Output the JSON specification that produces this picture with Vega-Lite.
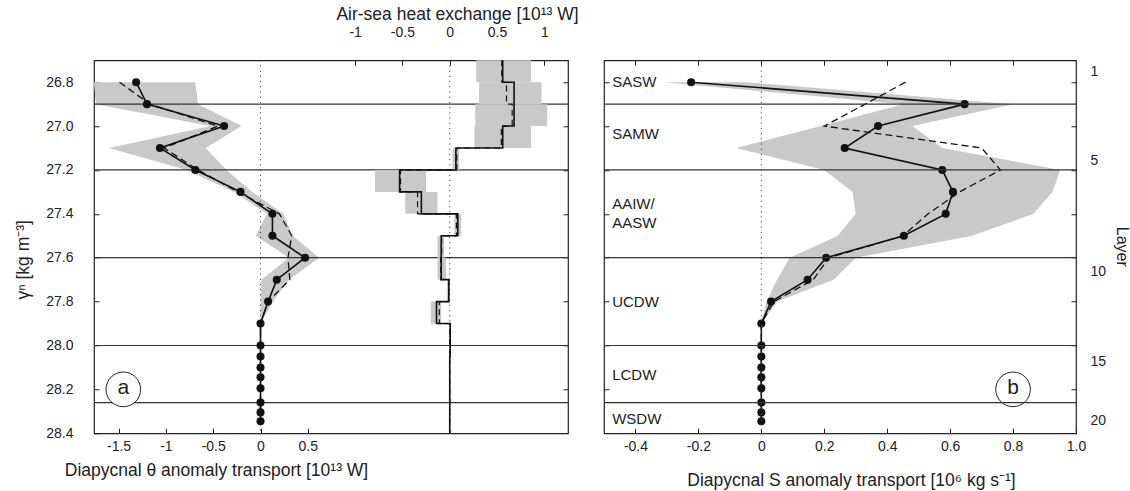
{
  "$schema": "https://vega.github.io/schema/vega-lite/v6.json",
  "padding": {"left": 13, "top": 4.25, "right": 5, "bottom": 5},
  "background": "white",
  "config": {
    "font": "Liberation Sans",
    "view": {"stroke": "#222", "strokeWidth": 1.2},
    "axis": {
      "domain": false, "grid": false, "tickColor": "#222", "tickSize": -5, "tickWidth": 1,
      "labelFont": "Liberation Sans", "labelFontSize": 14, "labelColor": "#222",
      "labelFlush": false, "labelOverlap": false,
      "titleFont": "Liberation Sans", "titleFontSize": 17.5, "titleFontWeight": "normal", "titleColor": "#222"
    }
  },
  "datasets": {
    "theta": [
      {"g": 26.8, "v": -1.315, "d": -1.49},
      {"g": 26.9, "v": -1.2, "d": -1.17},
      {"g": 27.0, "v": -0.385, "d": -0.45},
      {"g": 27.1, "v": -1.063, "d": -1.02},
      {"g": 27.2, "v": -0.688, "d": -0.66},
      {"g": 27.3, "v": -0.212, "d": -0.24},
      {"g": 27.4, "v": 0.126, "d": 0.2},
      {"g": 27.5, "v": 0.126, "d": 0.33},
      {"g": 27.6, "v": 0.471, "d": 0.29},
      {"g": 27.7, "v": 0.172, "d": 0.31},
      {"g": 27.8, "v": 0.08, "d": 0.08},
      {"g": 27.9, "v": 0, "d": 0},
      {"g": 28.0, "v": 0, "d": 0},
      {"g": 28.05, "v": 0, "d": 0},
      {"g": 28.1, "v": 0, "d": 0},
      {"g": 28.145, "v": 0, "d": 0},
      {"g": 28.195, "v": 0, "d": 0},
      {"g": 28.26, "v": 0, "d": 0},
      {"g": 28.305, "v": 0, "d": 0},
      {"g": 28.345, "v": 0, "d": 0}
    ],
    "thetaBand": [
      {"g": 26.8, "lo": -1.76, "hi": -0.69},
      {"g": 26.9, "lo": -1.74, "hi": -0.66},
      {"g": 27.0, "lo": -0.53, "hi": -0.2},
      {"g": 27.1, "lo": -1.6, "hi": -0.58},
      {"g": 27.2, "lo": -0.78, "hi": -0.36},
      {"g": 27.3, "lo": -0.28, "hi": -0.09},
      {"g": 27.4, "lo": 0.07, "hi": 0.24},
      {"g": 27.5, "lo": -0.05, "hi": 0.34},
      {"g": 27.6, "lo": 0.3, "hi": 0.62},
      {"g": 27.7, "lo": 0.01, "hi": 0.3},
      {"g": 27.8, "lo": 0.0, "hi": 0.13},
      {"g": 27.9, "lo": 0, "hi": 0}
    ],
    "heat": [
      {"g": 26.7, "v": 0.56, "d": 0.55},
      {"g": 26.8, "v": 0.68, "d": 0.6},
      {"g": 26.9, "v": 0.68, "d": 0.66},
      {"g": 27.0, "v": 0.56, "d": 0.545},
      {"g": 27.1, "v": 0.065, "d": 0.075},
      {"g": 27.2, "v": -0.53, "d": -0.52},
      {"g": 27.3, "v": -0.3, "d": -0.34},
      {"g": 27.4, "v": 0.085, "d": 0.07},
      {"g": 27.5, "v": -0.09, "d": -0.085},
      {"g": 27.6, "v": -0.09, "d": -0.095},
      {"g": 27.7, "v": -0.01, "d": -0.01},
      {"g": 27.8, "v": -0.14, "d": -0.11},
      {"g": 27.9, "v": 0.005, "d": 0.0},
      {"g": 28.05, "v": 0, "d": 0},
      {"g": 28.4, "v": 0, "d": 0}
    ],
    "heatBand": [
      {"g": 26.7, "g2": 26.8, "lo": 0.28, "hi": 0.86},
      {"g": 26.8, "g2": 26.9, "lo": 0.31, "hi": 0.97},
      {"g": 26.9, "g2": 27.0, "lo": 0.27, "hi": 1.03},
      {"g": 27.0, "g2": 27.1, "lo": 0.26, "hi": 0.86},
      {"g": 27.1, "g2": 27.2, "lo": 0.03, "hi": 0.1},
      {"g": 27.2, "g2": 27.3, "lo": -0.79, "hi": -0.25},
      {"g": 27.3, "g2": 27.4, "lo": -0.47, "hi": -0.13},
      {"g": 27.4, "g2": 27.5, "lo": 0.05, "hi": 0.12},
      {"g": 27.5, "g2": 27.6, "lo": -0.13, "hi": -0.06},
      {"g": 27.6, "g2": 27.7, "lo": -0.13, "hi": -0.04},
      {"g": 27.7, "g2": 27.8, "lo": -0.03, "hi": 0.0},
      {"g": 27.8, "g2": 27.9, "lo": -0.2, "hi": -0.09}
    ],
    "sal": [
      {"g": 26.8, "v": -0.223, "d": 0.458},
      {"g": 26.9, "v": 0.646, "d": 0.33},
      {"g": 27.0, "v": 0.371, "d": 0.2},
      {"g": 27.1, "v": 0.265, "d": 0.7},
      {"g": 27.2, "v": 0.575, "d": 0.76},
      {"g": 27.3, "v": 0.609, "d": 0.63},
      {"g": 27.4, "v": 0.586, "d": 0.53},
      {"g": 27.5, "v": 0.453, "d": 0.45},
      {"g": 27.6, "v": 0.206, "d": 0.215},
      {"g": 27.7, "v": 0.147, "d": 0.165},
      {"g": 27.8, "v": 0.031, "d": 0.04},
      {"g": 27.9, "v": 0, "d": 0},
      {"g": 28.0, "v": 0, "d": 0},
      {"g": 28.05, "v": 0, "d": 0},
      {"g": 28.1, "v": 0, "d": 0},
      {"g": 28.145, "v": 0, "d": 0},
      {"g": 28.195, "v": 0, "d": 0},
      {"g": 28.26, "v": 0, "d": 0},
      {"g": 28.305, "v": 0, "d": 0},
      {"g": 28.345, "v": 0, "d": 0}
    ],
    "salBand": [
      {"g": 26.8, "lo": -0.31, "hi": -0.05},
      {"g": 26.9, "lo": 0.45, "hi": 0.8},
      {"g": 27.0, "lo": 0.19, "hi": 0.48},
      {"g": 27.1, "lo": -0.08, "hi": 0.575},
      {"g": 27.2, "lo": 0.2, "hi": 0.95},
      {"g": 27.3, "lo": 0.29, "hi": 0.925},
      {"g": 27.4, "lo": 0.3, "hi": 0.865},
      {"g": 27.5, "lo": 0.243, "hi": 0.67},
      {"g": 27.6, "lo": 0.09, "hi": 0.3},
      {"g": 27.7, "lo": 0.05, "hi": 0.23},
      {"g": 27.8, "lo": 0.016, "hi": 0.05},
      {"g": 27.9, "lo": 0, "hi": 0}
    ],
    "bounds": [{"g": 26.9}, {"g": 27.2}, {"g": 27.6}, {"g": 28.0}, {"g": 28.26}],
    "regions": [
      {"x": -0.474, "g": 26.8, "name": "SASW"},
      {"x": -0.474, "g": 27.035, "name": "SAMW"},
      {"x": -0.474, "g": 27.353, "name": "AAIW/"},
      {"x": -0.474, "g": 27.444, "name": "AASW"},
      {"x": -0.474, "g": 27.803, "name": "UCDW"},
      {"x": -0.474, "g": 28.136, "name": "LCDW"},
      {"x": -0.474, "g": 28.333, "name": "WSDW"}
    ],
    "tagA": [{"x": -1.45, "g": 28.2, "t": "a"}],
    "tagB": [{"x": 0.8, "g": 28.2, "t": "b"}]
  },
  "bounds": "flush",
  "spacing": 36,
  "hconcat": [
    {
      "width": 474,
      "height": 373,
      "resolve": {"scale": {"x": "independent"}, "axis": {"x": "independent", "y": "independent"}},
      "layer": [
        {
          "layer": [
            {
              "data": {"name": "thetaBand"},
              "mark": {"type": "area", "orient": "horizontal", "color": "#c9c9c9"},
              "encoding": {
                "x": {"field": "lo", "type": "quantitative", "scale": {"domain": [-1.76, 3.25], "nice": false, "zero": false},
                  "axis": {"orient": "bottom", "values": [-1.5, -1, -0.5, 0, 0.5], "labelExpr": "'' + datum.value", "labelPadding": 11.5,
                    "title": "Diapycnal θ anomaly transport [10¹³ W]", "titleX": 122, "titleY": 37, "titleBaseline": "middle", "titleAlign": "center"}},
                "x2": {"field": "hi"},
                "y": {"field": "g", "type": "quantitative", "scale": {"domain": [26.7, 28.4], "reverse": true, "nice": false, "zero": false},
                  "axis": {"orient": "left", "values": [26.8, 27.0, 27.2, 27.4, 27.6, 27.8, 28.0, 28.2, 28.4], "labelExpr": "format(datum.value, '.1f')", "labelPadding": 26,
                    "title": "γⁿ [kg m⁻³]", "titleX": -71, "titleY": 199, "titleAngle": 270, "titleAlign": "center", "titleBaseline": "middle"}}
              }
            },
            {
              "data": {"name": "bounds"},
              "mark": {"type": "rule", "color": "#333", "strokeWidth": 1.2},
              "encoding": {
                "y": {"field": "g", "type": "quantitative", "scale": {"domain": [26.7, 28.4], "reverse": true, "nice": false, "zero": false}}
              }
            },
            {
              "data": {"values": [{}]},
              "mark": {"type": "rule", "color": "#444", "strokeWidth": 1, "strokeDash": [1.2, 4]},
              "encoding": {
                "x": {"datum": 0, "type": "quantitative", "scale": {"domain": [-1.76, 3.25], "nice": false, "zero": false}}
              }
            },
            {
              "data": {"name": "theta"},
              "mark": {"type": "line", "color": "#111", "strokeWidth": 1.3, "strokeDash": [7, 4]},
              "encoding": {
                "x": {"field": "d", "type": "quantitative", "scale": {"domain": [-1.76, 3.25], "nice": false, "zero": false}},
                "y": {"field": "g", "type": "quantitative", "scale": {"domain": [26.7, 28.4], "reverse": true, "nice": false, "zero": false}},
                "order": {"field": "g", "type": "quantitative"}
              }
            },
            {
              "data": {"name": "theta"},
              "mark": {"type": "line", "color": "#111", "strokeWidth": 1.6},
              "encoding": {
                "x": {"field": "v", "type": "quantitative", "scale": {"domain": [-1.76, 3.25], "nice": false, "zero": false}},
                "y": {"field": "g", "type": "quantitative", "scale": {"domain": [26.7, 28.4], "reverse": true, "nice": false, "zero": false}},
                "order": {"field": "g", "type": "quantitative"}
              }
            },
            {
              "data": {"name": "theta"},
              "mark": {"type": "point", "filled": true, "size": 65, "color": "#111", "opacity": 1},
              "encoding": {
                "x": {"field": "v", "type": "quantitative", "scale": {"domain": [-1.76, 3.25], "nice": false, "zero": false}},
                "y": {"field": "g", "type": "quantitative", "scale": {"domain": [26.7, 28.4], "reverse": true, "nice": false, "zero": false}}
              }
            },
            {
              "data": {"name": "tagA"},
              "mark": {"type": "point", "shape": "circle", "filled": true, "fill": "white", "stroke": "#222", "strokeWidth": 1, "size": 1200, "opacity": 1},
              "encoding": {
                "x": {"field": "x", "type": "quantitative", "scale": {"domain": [-1.76, 3.25], "nice": false, "zero": false}},
                "y": {"field": "g", "type": "quantitative", "scale": {"domain": [26.7, 28.4], "reverse": true, "nice": false, "zero": false}}
              }
            },
            {
              "data": {"name": "tagA"},
              "mark": {"type": "text", "fontSize": 21, "color": "#222", "align": "center", "baseline": "middle", "dy": -1},
              "encoding": {
                "x": {"field": "x", "type": "quantitative", "scale": {"domain": [-1.76, 3.25], "nice": false, "zero": false}},
                "y": {"field": "g", "type": "quantitative", "scale": {"domain": [26.7, 28.4], "reverse": true, "nice": false, "zero": false}},
                "text": {"field": "t"}
              }
            }
          ]
        },
        {
          "layer": [
            {
              "data": {"name": "heatBand"},
              "mark": {"type": "rect", "color": "#c9c9c9"},
              "encoding": {
                "x": {"field": "lo", "type": "quantitative", "scale": {"domain": [-3.76, 1.25], "nice": false, "zero": false},
                  "axis": {"orient": "top", "values": [-1, -0.5, 0, 0.5, 1], "labelExpr": "'' + datum.value", "labelPadding": 25.5,
                    "title": "Air-sea heat exchange [10¹³ W]", "titleX": 363, "titleY": -46, "titleBaseline": "middle", "titleAlign": "center"}},
                "x2": {"field": "hi"},
                "y": {"field": "g", "type": "quantitative", "scale": {"domain": [26.7, 28.4], "reverse": true, "nice": false, "zero": false},
                  "axis": {"orient": "right", "values": [26.8, 27.0, 27.2, 27.4, 27.6, 27.8, 28.0, 28.2], "labels": false, "title": null}},
                "y2": {"field": "g2"}
              }
            },
            {
              "data": {"values": [{}]},
              "mark": {"type": "rule", "color": "#444", "strokeWidth": 1, "strokeDash": [1.2, 4]},
              "encoding": {
                "x": {"datum": 0, "type": "quantitative", "scale": {"domain": [-3.76, 1.25], "nice": false, "zero": false}}
              }
            },
            {
              "data": {"name": "heat"},
              "mark": {"type": "line", "interpolate": "step-before", "color": "#111", "strokeWidth": 1.2, "strokeDash": [6, 4]},
              "encoding": {
                "x": {"field": "d", "type": "quantitative", "scale": {"domain": [-3.76, 1.25], "nice": false, "zero": false}},
                "y": {"field": "g", "type": "quantitative", "scale": {"domain": [26.7, 28.4], "reverse": true, "nice": false, "zero": false}},
                "order": {"field": "g", "type": "quantitative"}
              }
            },
            {
              "data": {"name": "heat"},
              "mark": {"type": "line", "interpolate": "step-before", "color": "#111", "strokeWidth": 1.6},
              "encoding": {
                "x": {"field": "v", "type": "quantitative", "scale": {"domain": [-3.76, 1.25], "nice": false, "zero": false}},
                "y": {"field": "g", "type": "quantitative", "scale": {"domain": [26.7, 28.4], "reverse": true, "nice": false, "zero": false}},
                "order": {"field": "g", "type": "quantitative"}
              }
            }
          ]
        }
      ]
    },
    {
      "width": 472,
      "height": 373,
      "resolve": {"axis": {"x": "independent", "y": "independent"}},
      "layer": [
        {
          "layer": [
            {
              "data": {"name": "salBand"},
              "mark": {"type": "area", "orient": "horizontal", "color": "#c9c9c9"},
              "encoding": {
                "x": {"field": "lo", "type": "quantitative", "scale": {"domain": [-0.5, 1.0], "nice": false, "zero": false},
                  "axis": {"orient": "bottom", "values": [-0.4, -0.2, 0, 0.2, 0.4, 0.6, 0.8, 1.0], "labelExpr": "datum.value == 1 ? '1.0' : '' + datum.value", "labelPadding": 11.5,
                    "title": "Diapycnal S anomaly transport [10⁶ kg s⁻¹]", "titleX": 247, "titleY": 47, "titleBaseline": "middle", "titleAlign": "center"}},
                "x2": {"field": "hi"},
                "y": {"field": "g", "type": "quantitative", "scale": {"domain": [26.7, 28.4], "reverse": true, "nice": false, "zero": false},
                  "axis": {"orient": "left", "values": [26.8, 27.0, 27.2, 27.4, 27.6, 27.8, 28.0, 28.2], "labels": false, "title": null}}
              }
            },
            {
              "data": {"name": "sal"},
              "mark": {"type": "line", "color": "#111", "strokeWidth": 1.3, "strokeDash": [7, 4]},
              "encoding": {
                "x": {"field": "d", "type": "quantitative", "scale": {"domain": [-0.5, 1.0], "nice": false, "zero": false}},
                "y": {"field": "g", "type": "quantitative", "scale": {"domain": [26.7, 28.4], "reverse": true, "nice": false, "zero": false}},
                "order": {"field": "g", "type": "quantitative"}
              }
            },
            {
              "data": {"name": "sal"},
              "mark": {"type": "line", "color": "#111", "strokeWidth": 1.6},
              "encoding": {
                "x": {"field": "v", "type": "quantitative", "scale": {"domain": [-0.5, 1.0], "nice": false, "zero": false}},
                "y": {"field": "g", "type": "quantitative", "scale": {"domain": [26.7, 28.4], "reverse": true, "nice": false, "zero": false}},
                "order": {"field": "g", "type": "quantitative"}
              }
            },
            {
              "data": {"name": "sal"},
              "mark": {"type": "point", "filled": true, "size": 65, "color": "#111", "opacity": 1},
              "encoding": {
                "x": {"field": "v", "type": "quantitative", "scale": {"domain": [-0.5, 1.0], "nice": false, "zero": false}},
                "y": {"field": "g", "type": "quantitative", "scale": {"domain": [26.7, 28.4], "reverse": true, "nice": false, "zero": false}}
              }
            },
            {
              "data": {"name": "regions"},
              "mark": {"type": "text", "fontSize": 15, "color": "#222", "align": "left", "baseline": "middle"},
              "encoding": {
                "x": {"field": "x", "type": "quantitative", "scale": {"domain": [-0.5, 1.0], "nice": false, "zero": false}},
                "y": {"field": "g", "type": "quantitative", "scale": {"domain": [26.7, 28.4], "reverse": true, "nice": false, "zero": false}},
                "text": {"field": "name"}
              }
            },
            {
              "data": {"name": "tagB"},
              "mark": {"type": "point", "shape": "circle", "filled": true, "fill": "white", "stroke": "#222", "strokeWidth": 1, "size": 1200, "opacity": 1},
              "encoding": {
                "x": {"field": "x", "type": "quantitative", "scale": {"domain": [-0.5, 1.0], "nice": false, "zero": false}},
                "y": {"field": "g", "type": "quantitative", "scale": {"domain": [26.7, 28.4], "reverse": true, "nice": false, "zero": false}}
              }
            },
            {
              "data": {"name": "tagB"},
              "mark": {"type": "text", "fontSize": 21, "color": "#222", "align": "center", "baseline": "middle", "dy": -1},
              "encoding": {
                "x": {"field": "x", "type": "quantitative", "scale": {"domain": [-0.5, 1.0], "nice": false, "zero": false}},
                "y": {"field": "g", "type": "quantitative", "scale": {"domain": [26.7, 28.4], "reverse": true, "nice": false, "zero": false}},
                "text": {"field": "t"}
              }
            }
          ]
        },
        {
          "layer": [
            {
              "data": {"name": "bounds"},
              "mark": {"type": "rule", "color": "#333", "strokeWidth": 1.2},
              "encoding": {
                "y": {"field": "g", "type": "quantitative", "scale": {"domain": [26.7, 28.4], "reverse": true, "nice": false, "zero": false},
                  "axis": {"orient": "right", "values": [26.753, 26.8, 27.0, 27.156, 27.2, 27.4, 27.6, 27.662, 27.8, 28.0, 28.071, 28.2, 28.341],
                    "labelExpr": "abs(datum.value*5-round(datum.value*5))<0.01 ? '' : (datum.value<27 ? '1' : datum.value<27.4 ? '5' : datum.value<27.9 ? '10' : datum.value<28.2 ? '15' : '20')",
                    "tickOpacity": {"condition": {"test": "abs(datum.value*5-round(datum.value*5))<0.01", "value": 1}, "value": 0},
                    "labelPadding": 19, "labelAlign": "left", "labelBaseline": "middle",
                    "title": "Layer", "titleX": 45, "titleY": 186, "titleFontSize": 16, "titleAngle": 90, "titleAlign": "center", "titleBaseline": "middle"}}
              }
            },
            {
              "data": {"values": [{}]},
              "mark": {"type": "rule", "color": "#444", "strokeWidth": 1, "strokeDash": [1.2, 4]},
              "encoding": {
                "x": {"datum": 0, "type": "quantitative", "scale": {"domain": [-0.5, 1.0], "nice": false, "zero": false},
                  "axis": {"orient": "top", "values": [-0.4, -0.2, 0, 0.2, 0.4, 0.6, 0.8], "labels": false, "title": null}}
              }
            }
          ]
        }
      ]
    }
  ]
}
